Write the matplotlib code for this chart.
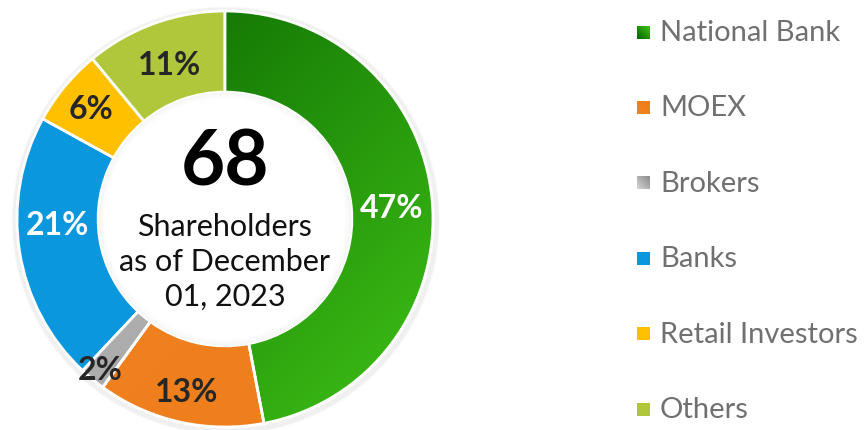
import numpy as np
import matplotlib
matplotlib.use("Agg")
import matplotlib.pyplot as plt
from matplotlib.patches import Wedge, Circle
from matplotlib.colors import to_rgb

# ---- data ----
categories = ["National Bank", "MOEX", "Brokers", "Banks", "Retail Investors", "Others"]
values = [47, 13, 2, 21, 6, 11]
pct_labels = ["47%", "13%", "2%", "21%", "6%", "11%"]
center_number = "68"
center_text = "Shareholders\nas of December\n01, 2023"

# ---- style ----
grad_start = ["#086200", "#f3821f", "#d4d4d4", "#0b97dd", "#ffc000", "#b0c73b"]
grad_end = ["#3fc216", "#ee7d1c", "#8a8a8a", "#0b97dd", "#ffc000", "#b0c73b"]
label_colors = ["white", "#262626", "#262626", "white", "#262626", "#262626"]
label_radius = [0.805, 0.85, 0.94, 0.805, 0.835, 0.79]
label_angle_shift = [-1.6, 0, 0, -7, 0, 0]

plt.rcParams['font.family'] = ['Lato', 'DejaVu Sans']

W, H = 864, 431
fig = plt.figure(figsize=(W / 100, H / 100), dpi=100)
cx, cy, R = 225, 220, 208
half = 216
ax = fig.add_axes([(cx - half) / W, (H - cy - half) / H, 2 * half / W, 2 * half / H])

ring_w = 0.39
inner = 1 - ring_w

# outer soft shadow
for i in range(7):
    ax.add_patch(Circle((0.004, -0.008), 1.0 + 0.004 * i, facecolor="none",
                        edgecolor="black", lw=1.5, alpha=0.025, zorder=0))

wedges, _ = ax.pie(values, startangle=90, counterclock=False, radius=1,
                   colors=grad_start,
                   wedgeprops=dict(width=ring_w, edgecolor="white", linewidth=2))

lim = half / R

# gradient fills
n = 300
xs = np.linspace(-1, 1, n)
X, Y = np.meshgrid(xs, xs[::-1])
t = np.clip(((X - Y) / 2 + 1) / 2, 0, 1)
for w, c0, c1 in zip(wedges, grad_start, grad_end):
    w.set_zorder(1)
    if c0 == c1:
        continue
    a, b = np.array(to_rgb(c0)), np.array(to_rgb(c1))
    img = a[None, None, :] * (1 - t[..., None]) + b[None, None, :] * t[..., None]
    im = ax.imshow(img, extent=[-1, 1, -1, 1], zorder=2, interpolation="bilinear")
    im.set_clip_path(w)
    ax.add_patch(Wedge(w.center, w.r, w.theta1, w.theta2, width=w.width,
                       facecolor="none", edgecolor="white", lw=2, zorder=3))
ax.set_xlim(-lim, lim)
ax.set_ylim(-lim, lim)
ax.set_aspect("equal")
ax.axis("off")

# inner white disc with soft inner shadow
ax.add_patch(Circle((0, 0), inner, facecolor="white", edgecolor="white", lw=1, zorder=4))
for i in range(6):
    ax.add_patch(Circle((0, 0), inner - 0.005 * i - 0.004, facecolor="none",
                        edgecolor="black", lw=1.5, alpha=0.018 * (1 - i / 6), zorder=5))

# percentage labels
for w, lab, col, rr, sh in zip(wedges, pct_labels, label_colors, label_radius, label_angle_shift):
    ang = np.deg2rad((w.theta1 + w.theta2) / 2 + sh)
    ax.text(rr * np.cos(ang), rr * np.sin(ang), lab, ha="center", va="center",
            fontsize=23, fontweight="bold", color=col, zorder=6)

# center text
ax.text(0, 0.27, center_number, ha="center", va="center", fontsize=55,
        fontweight="bold", color="black", zorder=6)
ax.text(0, -0.2, center_text, ha="center", va="center", fontsize=22,
        fontweight="normal", color="#111111", linespacing=1.3, zorder=6)

# legend
leg_y0, leg_dy = 33, 75.4
for i, (cat, c0, c1) in enumerate(zip(categories, grad_start, grad_end)):
    yc = leg_y0 + i * leg_dy
    fy = 1 - yc / H
    s = 13
    lax = fig.add_axes([637 / W, (H - yc - s / 2) / H, s / W, s / H])
    lax.axis("off")
    a, b = np.array(to_rgb(c0)), np.array(to_rgb(c1))
    g = np.linspace(0, 1, 20)
    GX, GY = np.meshgrid(g, g)
    tt = (GX + (1 - GY)) / 2
    img = a[None, None, :] * (1 - tt[..., None]) + b[None, None, :] * tt[..., None]
    lax.imshow(img, extent=[0, 1, 0, 1], aspect="auto")
    lax.set_xlim(0, 1)
    lax.set_ylim(0, 1)
    fig.text(660 / W, fy, cat, ha="left", va="center", fontsize=21,
             fontweight="normal", color="#707070")

fig.savefig("out.png", dpi=100)
